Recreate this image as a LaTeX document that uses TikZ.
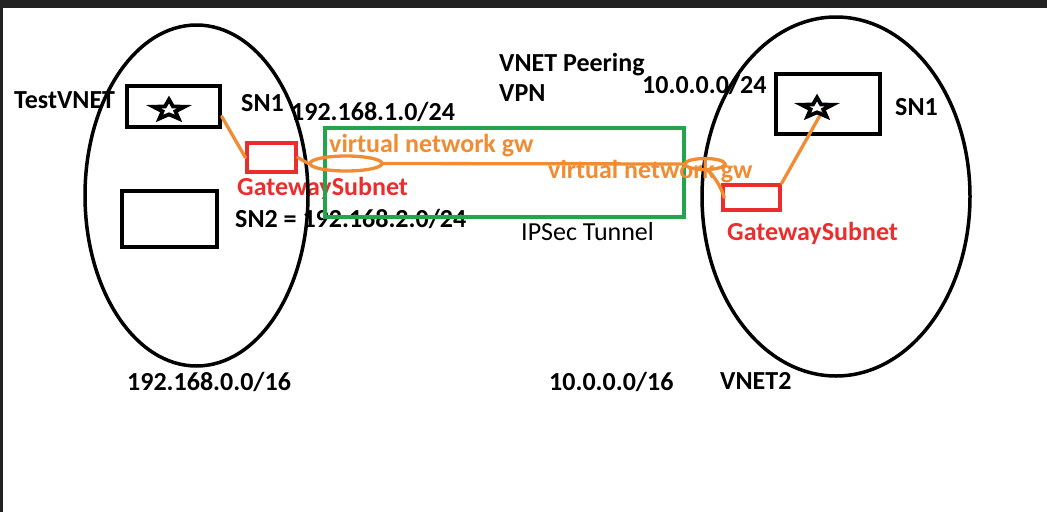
\documentclass[tikz,border=0pt]{standalone}
\usepackage{fontspec}
\setmainfont{Carlito}
\usetikzlibrary{shapes.geometric}
\definecolor{myorange}{RGB}{242,140,50}
\definecolor{myred}{RGB}{236,45,45}
\definecolor{mygreen}{RGB}{34,165,76}
\definecolor{barcol}{RGB}{34,34,34}
\begin{document}
\begin{tikzpicture}[x=1pt,y=-1pt,
  lbl/.style={anchor=base west, inner sep=0pt, font=\fontsize{26}{31}\selectfont\bfseries},
  lblr/.style={anchor=base west, inner sep=0pt, font=\fontsize{26}{31}\selectfont},
  vnet/.style={draw=black, line width=3.5pt, ellipse, inner sep=0pt},
  box/.style={draw=black, line width=3.5pt, rectangle, inner sep=0pt},
  gwbox/.style={draw=myred, line width=3.3pt, rectangle, inner sep=0pt},
  tunnel/.style={draw=mygreen, line width=3.3pt, rectangle, inner sep=0pt},
  ring/.style={draw=myorange, line width=3.3pt, ellipse, inner sep=0pt},
  conn/.style={draw=myorange, line width=3.3pt, line cap=round},
  starshape/.style={draw=black, line width=3.8pt, star, star points=5, star point ratio=2.4, inner sep=0pt, minimum size=21pt, xscale=1.55}
]
\useasboundingbox (0,0) rectangle (1047,512);
\fill[white] (0,0) rectangle (1047,512);
\fill[barcol] (0,0) rectangle (1047,8);
\fill[barcol] (0,8) rectangle (2.5,512);

% texts
\node[lbl] (tvnet) at (14,108) {TestVNET};
\node[lbl] (sn1l) at (241,111) {SN1};
\node[lbl] (ip1) at (291,120) {192.168.1.0/24};
\node[lbl, text=myred] (gwl) at (237,195) {GatewaySubnet};
\node[lbl] (sn2) at (235,227) {SN2 = 192.168.2.0/24};
\node[lbl] (peer) at (499,71) {VNET Peering};
\node[lbl] (vpn) at (499,101) {VPN};
\node[lbl] (ip2) at (642,93) {10.0.0.0/24};
\node[lbl] (sn1r) at (895,115) {SN1};
\node[lblr] (ipsec) at (521,240) {IPSec Tunnel};
\node[lbl, text=myred] (gwr) at (727,240) {GatewaySubnet};
\node[lbl] (net1) at (127,390) {192.168.0.0/16};
\node[lbl] (net2) at (549,390) {10.0.0.0/16};
\node[lbl] (vnet2) at (720,389) {VNET2};

% networks
\node[vnet, minimum width=223pt, minimum height=341pt] (v1) at (196.5,195.5) {};
\node[vnet, minimum width=268pt, minimum height=359pt] (v2) at (836,196.5) {};

% subnets
\node[box, minimum width=93pt, minimum height=41pt] (s1) at (173.5,106.5) {};
\node[box, minimum width=95pt, minimum height=56pt] (s2) at (169.5,219) {};
\node[box, minimum width=104pt, minimum height=60pt] (s3) at (828,104) {};
\node[gwbox, minimum width=49pt, minimum height=29pt] (gw1) at (271.5,157.5) {};
\node[gwbox, minimum width=57pt, minimum height=25pt] (gw2) at (751.5,197.5) {};

% tunnel
\node[tunnel, minimum width=359pt, minimum height=89pt] (tun) at (504.5,172.5) {};

% orange gateway labels
\node[lbl, text=myorange] (vg1) at (329,152) {virtual network gw};
\node[lbl, text=myorange] (vg2) at (548,178) {virtual network gw};

% connectors
\draw[conn] ([yshift=-10pt]s1.east) -- (gw1.west);
\node[ring, minimum width=72pt, minimum height=15pt] (lo) at (346,163.5) {};
\node[ring, minimum width=40pt, minimum height=11pt] (ro) at (705,164) {};
\draw[conn] (gw1.east) -- (lo.west);
\draw[conn] (lo.east) -- (ro.west);
\draw[conn] (ro.-60) to[bend left=10] ([xshift=3pt]gw2.west);
\draw[conn] (gw2.north east) -- ([shift={(-5pt,-6pt)}]s3.center);

% stars
\node[starshape] (st1) at (169,110) {};
\node[starshape] (st2) at (817,108) {};
\end{tikzpicture}
\end{document}
